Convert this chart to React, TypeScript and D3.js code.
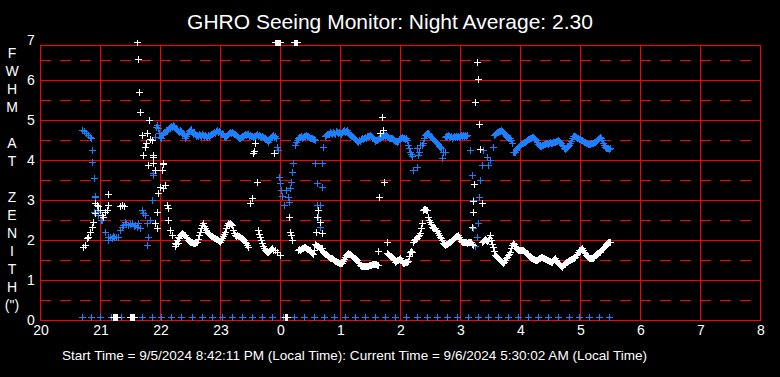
import React from "react";
import * as d3 from "d3";

// ---------- text ----------
const titleText = "GHRO Seeing Monitor: Night Average: 2.30";
const footerText =
  "Start Time = 9/5/2024 8:42:11 PM (Local Time): Current Time = 9/6/2024 5:30:02 AM (Local Time)";
const yAxisLetters = ["F", "W", "H", "M", "", "A", "T", "", "Z", "E", "N", "I", "T", "H", "(\")"];

// ---------- axes (x in minutes after 20:00 local) ----------
const startHour = 20;
const hourTicks = [0, 60, 120, 180, 240, 300, 360, 420, 480, 540, 600, 660, 720];
const valueTicks = [0, 1, 2, 3, 4, 5, 6, 7];
const solidLevels = [1, 2, 3, 4, 5, 6];
const halfLevels = [0.5, 1.5, 2.5, 3.5, 4.5, 5.5, 6.5];

// ---------- blue series [minute, FWHM] ----------
const blueDusk: [number, number][] = [
  [42, 4.75], [44, 4.72], [46, 4.68], [48, 4.62], [50, 4.58], [51, 4.55], [52, 4.25], [52, 3.96],
  [54, 3.55], [55, 3.1], [55, 3.08], [54, 2.71], [57, 2.75], [58, 2.71], [58, 2.62], [61, 2.5],
  [62, 2.5], [65, 2.21], [68, 2.08], [68, 2.0], [70, 2.08], [72, 2.06], [73, 2.1], [74, 2.08],
  [76, 2.07], [78, 2.08], [80, 2.25], [82, 2.32], [83, 2.38], [85, 2.46], [86, 2.4], [88, 2.38],
  [90, 2.4], [92, 2.42], [94, 2.36], [95, 2.38], [97, 2.33], [98, 2.42], [100, 2.3], [102, 2.75],
  [103, 2.67], [105, 2.62], [107, 2.42], [108, 2.08], [107, 1.88], [110, 2.5], [112, 3.0],
  [113, 3.62], [113, 3.67], [115, 4.58], [117, 4.88],
];
const blueUpperA: [number, number][] = [
  [116, 4.82], [118, 4.8], [119, 4.68], [120, 4.58], [121, 4.55], [122, 4.62], [123, 4.66],
  [124, 4.7], [125, 4.71], [126, 4.75], [127, 4.72], [128, 4.78], [129, 4.8], [130, 4.83],
  [131, 4.85], [132, 4.82], [133, 4.88], [134, 4.85], [135, 4.8], [136, 4.78], [137, 4.75],
  [138, 4.72], [139, 4.7], [140, 4.75], [141, 4.72], [142, 4.65], [143, 4.68], [144, 4.62],
  [145, 4.55], [146, 4.6], [147, 4.64], [148, 4.68], [149, 4.72], [150, 4.75], [151, 4.78],
  [152, 4.7], [153, 4.66], [154, 4.7], [155, 4.64], [156, 4.6], [157, 4.62], [158, 4.6],
  [159, 4.64], [160, 4.62], [161, 4.6], [162, 4.64], [163, 4.62], [164, 4.6], [165, 4.62],
  [166, 4.6], [167, 4.58], [168, 4.62], [169, 4.6], [170, 4.62], [171, 4.66], [172, 4.64],
  [173, 4.68], [174, 4.7], [175, 4.68], [176, 4.72], [177, 4.74], [178, 4.7], [179, 4.72],
  [180, 4.7], [181, 4.66], [182, 4.68], [183, 4.64], [184, 4.6], [185, 4.58], [186, 4.6],
  [187, 4.62], [188, 4.65], [189, 4.68], [190, 4.7], [191, 4.68], [192, 4.71], [193, 4.68],
  [194, 4.66], [195, 4.65], [196, 4.62], [197, 4.6], [198, 4.58], [199, 4.56], [200, 4.55],
  [201, 4.58], [202, 4.6], [203, 4.6], [204, 4.62], [205, 4.64], [206, 4.62], [207, 4.65],
  [208, 4.64], [209, 4.6], [210, 4.62], [211, 4.6], [212, 4.6], [213, 4.58], [214, 4.6],
  [215, 4.6], [216, 4.62], [217, 4.64], [218, 4.6], [219, 4.62], [220, 4.6], [221, 4.58],
  [222, 4.6], [223, 4.58], [224, 4.56], [225, 4.54], [226, 4.52], [227, 4.5], [228, 4.46],
  [229, 4.5], [230, 4.55], [231, 4.58], [232, 4.6], [233, 4.62], [234, 4.58], [235, 4.6],
  [236, 4.55],
];
const blueDipA: [number, number][] = [
  [237, 4.33], [238, 4.25], [239, 3.58], [240, 3.42], [241, 3.25], [242, 3.1], [244, 2.88],
  [246, 3.25], [248, 3.08], [249, 2.96], [250, 3.3], [251, 3.46], [252, 3.7], [253, 3.93],
];
const blueUpperB: [number, number][] = [
  [255, 4.38], [256, 4.45], [257, 4.5], [258, 4.55], [259, 4.58], [260, 4.58], [261, 4.6],
  [262, 4.56], [263, 4.58], [264, 4.6], [265, 4.6], [266, 4.62], [267, 4.6], [268, 4.6],
  [269, 4.58], [270, 4.55], [271, 4.56], [272, 4.55], [273, 4.52], [274, 4.52], [275, 4.5],
];
const blueDipB: [number, number][] = [
  [275, 3.93], [282, 3.93], [277, 3.43], [282, 3.33], [277, 2.88], [280, 2.88], [278, 2.58],
  [280, 2.33], [283, 4.33],
];
const blueUpperC: [number, number][] = [
  [285, 4.6], [286, 4.62], [287, 4.66], [288, 4.65], [289, 4.64], [290, 4.7], [291, 4.68],
  [292, 4.66], [293, 4.7], [294, 4.68], [295, 4.66], [296, 4.72], [297, 4.7], [298, 4.68],
  [299, 4.7], [300, 4.68], [301, 4.66], [302, 4.7], [303, 4.72], [304, 4.74], [305, 4.7],
  [306, 4.72], [307, 4.75], [308, 4.7], [309, 4.66], [310, 4.62], [311, 4.6], [312, 4.6],
  [313, 4.58], [314, 4.55], [315, 4.52], [316, 4.5], [317, 4.48], [318, 4.46], [319, 4.5],
  [320, 4.48], [321, 4.52], [322, 4.55], [323, 4.52], [324, 4.55], [325, 4.58], [326, 4.56],
  [327, 4.6], [328, 4.6], [329, 4.6], [330, 4.62], [331, 4.6], [332, 4.58], [333, 4.55],
  [334, 4.52], [335, 4.48], [336, 4.5], [337, 4.5], [338, 4.52], [339, 4.55], [340, 4.56],
  [341, 4.58], [342, 4.6], [343, 4.6], [344, 4.62], [345, 4.6], [346, 4.62], [347, 4.6],
  [348, 4.58], [349, 4.56], [350, 4.55], [351, 4.54], [352, 4.55], [353, 4.52], [354, 4.5],
  [355, 4.48], [356, 4.48], [357, 4.46], [358, 4.48], [359, 4.52], [360, 4.55], [361, 4.56],
  [362, 4.58], [363, 4.55], [364, 4.55], [365, 4.52], [366, 4.54], [367, 4.5], [368, 4.38],
  [369, 4.3], [370, 4.21], [371, 4.15], [372, 4.1], [373, 3.75], [377, 3.83], [377, 4.3],
  [378, 4.12], [379, 4.21], [380, 4.38], [382, 4.38], [383, 4.43], [384, 4.55], [385, 4.62],
  [386, 4.66], [387, 4.68], [388, 4.68], [389, 4.64], [390, 4.6], [391, 4.58], [392, 4.55],
  [393, 4.52], [394, 4.5], [395, 4.48], [396, 4.45], [397, 4.43], [398, 4.4], [399, 4.36],
  [400, 4.33], [401, 4.3], [402, 4.04], [403, 4.21], [405, 4.21], [405, 4.58], [406, 4.6],
  [407, 4.6], [408, 4.62], [409, 4.6], [410, 4.58], [411, 4.6], [412, 4.56], [413, 4.58],
  [414, 4.6], [415, 4.58], [416, 4.6], [417, 4.58], [418, 4.6], [419, 4.58], [420, 4.6],
  [421, 4.62], [422, 4.6], [423, 4.62], [424, 4.6], [425, 4.62], [426, 4.6], [427, 4.62],
];
const blueDipC: [number, number][] = [
  [430, 4.25], [432, 3.62], [433, 3.0], [433, 2.29], [435, 1.85], [437, 2.08], [438, 2.43],
  [439, 3.08], [440, 3.5], [442, 3.88], [443, 4.25], [447, 4.08], [448, 3.88], [450, 4.0],
  [453, 4.33],
];
const blueUpperD: [number, number][] = [
  [454, 4.62], [455, 4.66], [456, 4.68], [457, 4.7], [458, 4.7], [459, 4.72], [460, 4.72],
  [461, 4.75], [462, 4.72], [463, 4.7], [464, 4.68], [465, 4.64], [466, 4.6], [467, 4.58],
  [468, 4.56], [469, 4.55], [470, 4.55], [471, 4.5], [472, 4.43], [473, 4.21], [474, 4.2],
  [475, 4.21], [476, 4.25], [477, 4.3], [478, 4.33], [479, 4.36], [480, 4.38], [481, 4.4],
  [482, 4.42], [483, 4.42], [484, 4.45], [485, 4.46], [486, 4.48], [487, 4.5], [488, 4.52],
  [489, 4.52], [490, 4.55], [491, 4.56], [492, 4.58], [493, 4.58], [494, 4.55], [495, 4.52],
  [496, 4.5], [497, 4.45], [498, 4.4], [499, 4.38], [500, 4.35], [501, 4.36], [502, 4.38],
  [503, 4.38], [504, 4.4], [505, 4.4], [506, 4.42], [507, 4.42], [508, 4.4], [509, 4.42],
  [510, 4.44], [511, 4.42], [512, 4.42], [513, 4.44], [514, 4.44], [515, 4.45], [516, 4.48],
  [517, 4.48], [518, 4.5], [519, 4.48], [520, 4.45], [521, 4.42], [522, 4.38], [523, 4.35],
  [524, 4.3], [525, 4.28], [526, 4.3], [527, 4.32], [528, 4.35], [529, 4.38], [530, 4.42],
  [531, 4.48], [532, 4.55], [533, 4.6], [534, 4.6], [535, 4.6], [536, 4.58], [537, 4.55],
  [538, 4.55], [539, 4.52], [540, 4.52], [541, 4.5], [542, 4.5], [543, 4.48], [544, 4.45],
  [545, 4.45], [546, 4.42], [547, 4.42], [548, 4.4], [549, 4.4], [550, 4.4], [551, 4.42],
  [552, 4.42], [553, 4.43], [554, 4.45], [555, 4.46], [556, 4.48], [557, 4.5], [558, 4.52],
  [559, 4.55], [560, 4.58], [561, 4.55], [562, 4.5], [563, 4.42], [564, 4.38], [565, 4.33],
  [566, 4.3], [567, 4.29], [568, 4.3], [569, 4.28], [570, 4.29],
];
const blueZeroMinutes = [
  42, 51, 60, 71, 81, 91, 102, 112, 121, 131, 141, 152, 162, 172, 182, 192, 202, 212, 222, 232,
  243, 254, 264, 274, 284, 294, 305, 315, 325, 335, 345, 355, 366, 377, 387, 397, 407, 417, 428,
  438, 448, 458, 468, 478, 488, 498, 508, 518, 529, 539, 549, 559, 569,
];

// ---------- white series [minute, FWHM] ----------
const whiteDusk: [number, number][] = [
  [43, 1.83], [45, 1.88], [47, 2.05], [48, 2.08], [50, 2.2], [52, 2.33], [53, 2.46], [55, 2.67],
  [55, 2.92], [57, 2.88], [58, 2.85], [60, 2.75], [62, 2.62], [63, 2.58], [65, 2.71], [67, 2.75],
  [68, 2.88], [68, 3.15], [80, 2.85], [82, 2.88], [84, 2.86],
];
const whiteRise: [number, number][] = [
  [97, 6.94], [98, 6.52], [99, 5.69], [100, 5.19], [102, 4.62], [103, 4.12], [105, 4.32],
  [106, 4.42], [107, 4.67], [108, 3.88], [109, 5.0], [110, 4.52], [112, 4.5], [113, 4.12],
  [113, 3.92], [113, 4.08], [115, 3.75], [115, 2.42], [117, 2.71], [117, 2.3], [118, 3.17],
  [120, 3.33], [122, 3.75], [123, 3.92], [123, 3.3], [123, 3.89], [125, 3.38], [127, 2.88],
  [128, 2.8], [128, 2.5], [130, 2.25], [132, 2.12],
];
const whiteLowA: [number, number][] = [
  [135, 1.92], [135, 1.85], [136, 1.9], [137, 2.0], [138, 2.08], [138, 1.92], [139, 2.05],
  [140, 2.12], [141, 2.15], [142, 2.17], [143, 2.15], [144, 2.12], [145, 2.12], [146, 2.08],
  [147, 2.04], [148, 2.0], [149, 1.98], [150, 1.96], [151, 1.95], [152, 1.94], [153, 1.92],
  [154, 1.92], [155, 1.93], [156, 1.95], [157, 1.96], [158, 2.02], [159, 2.12], [160, 2.21],
  [161, 2.3], [162, 2.38], [163, 2.42], [164, 2.36], [165, 2.3], [166, 2.25], [167, 2.21],
  [168, 2.18], [169, 2.15], [170, 2.12], [171, 2.1], [172, 2.1], [173, 2.08], [174, 2.05],
  [175, 2.04], [176, 2.02], [177, 2.02], [178, 2.0], [179, 1.98], [180, 1.96], [181, 2.0],
  [182, 2.05], [183, 2.1], [184, 2.15], [185, 2.21], [186, 2.3], [187, 2.38], [188, 2.42],
  [189, 2.4], [190, 2.42], [191, 2.4], [192, 2.38], [193, 2.25], [194, 2.18], [195, 2.12],
  [196, 2.1], [197, 2.12], [198, 2.1], [199, 2.1], [200, 2.08], [201, 2.06], [202, 2.04],
  [203, 2.02], [204, 2.0], [205, 1.96], [206, 1.92], [207, 1.88], [208, 1.83], [218, 2.25],
  [219, 2.15], [220, 2.08], [221, 2.0], [222, 1.92], [223, 1.85], [224, 1.8], [225, 1.75],
  [226, 1.72], [227, 1.7], [228, 1.71], [229, 1.72], [230, 1.75], [231, 1.78], [232, 1.79],
  [233, 1.76], [235, 1.75], [237, 1.7], [240, 1.62],
];
const whiteStrayA: [number, number][] = [
  [210, 2.92], [212, 3.04], [213, 4.17], [214, 4.22], [215, 4.42], [217, 3.46], [234, 4.17],
  [249, 2.58], [250, 2.21], [251, 2.12], [252, 2.0],
];
const whiteLowB: [number, number][] = [
  [258, 1.75], [259, 1.77], [260, 1.75], [261, 1.78], [262, 1.8], [263, 1.8], [264, 1.82],
  [265, 1.83], [266, 1.8], [267, 1.78], [268, 1.78], [269, 1.76], [270, 1.75], [271, 1.7],
  [272, 1.68], [273, 1.65], [274, 1.75], [275, 1.9], [276, 1.88], [277, 1.86], [278, 1.85],
  [279, 1.82], [280, 1.8], [281, 1.8], [282, 1.79], [283, 1.71], [284, 1.68], [285, 1.66],
  [286, 1.64], [287, 1.62], [288, 1.6], [289, 1.58], [290, 1.56], [291, 1.55], [292, 1.54],
  [293, 1.52], [294, 1.5], [295, 1.48], [296, 1.48], [297, 1.46], [298, 1.44], [299, 1.42],
  [300, 1.42], [301, 1.42], [302, 1.42], [303, 1.48], [304, 1.52], [305, 1.58], [306, 1.62],
  [307, 1.65], [308, 1.67], [309, 1.66], [310, 1.64], [311, 1.62], [312, 1.6], [313, 1.58],
  [314, 1.56], [315, 1.55], [316, 1.52], [317, 1.5], [318, 1.46], [319, 1.42], [320, 1.38],
  [321, 1.36], [322, 1.35], [323, 1.35], [324, 1.35], [325, 1.36], [326, 1.35], [327, 1.36],
  [328, 1.36], [329, 1.38], [330, 1.38], [331, 1.38], [332, 1.4], [333, 1.4], [334, 1.4],
  [335, 1.4], [336, 1.4], [337, 1.38], [338, 1.38],
];
const whiteStrayB: [number, number][] = [
  [276, 2.21], [277, 2.58], [278, 2.75], [280, 2.46], [282, 2.17], [339, 3.07], [340, 4.67],
  [342, 5.08], [343, 4.75], [344, 3.44], [338, 1.73], [347, 1.96],
];
const whiteLowC: [number, number][] = [
  [347, 1.67], [348, 1.64], [349, 1.62], [350, 1.6], [351, 1.6], [352, 1.58], [353, 1.55],
  [354, 1.5], [355, 1.46], [356, 1.48], [357, 1.5], [358, 1.5], [359, 1.52], [360, 1.54],
  [361, 1.5], [362, 1.45], [363, 1.42], [364, 1.42], [365, 1.44], [366, 1.45], [367, 1.46],
  [368, 1.48], [369, 1.6], [370, 1.71], [371, 1.72], [372, 1.71], [373, 1.96], [374, 2.0],
  [375, 2.02], [376, 2.02], [377, 2.04], [378, 2.1], [379, 2.12], [380, 2.17], [381, 2.3],
  [382, 2.42], [383, 2.75], [384, 2.78], [385, 2.78], [386, 2.76], [387, 2.75], [388, 2.58],
  [389, 2.5], [390, 2.45], [391, 2.4], [392, 2.33], [393, 2.3], [394, 2.3], [395, 2.29],
  [396, 2.25], [397, 2.22], [398, 2.17], [399, 2.12], [400, 2.08], [401, 2.04], [402, 2.0],
  [403, 1.92], [404, 1.9], [405, 1.88], [406, 1.9], [407, 1.9], [408, 1.92], [409, 1.94],
  [410, 1.96], [411, 1.98], [412, 2.0], [413, 2.02], [414, 2.05], [415, 2.08], [416, 2.1],
  [417, 2.1], [418, 2.12], [419, 2.08], [420, 2.02], [421, 1.98], [422, 1.96], [423, 1.95],
  [424, 1.95], [425, 1.94], [426, 1.94], [427, 1.93], [428, 1.94], [429, 1.95], [430, 1.96],
  [431, 1.94], [432, 1.9], [433, 1.88],
];
const whiteStrayC: [number, number][] = [
  [432, 2.33], [433, 2.71], [433, 2.98], [434, 3.39], [435, 5.44], [437, 6.46], [438, 6.02],
  [439, 4.9], [440, 4.28], [442, 2.93],
];
const whiteLowD: [number, number][] = [
  [442, 1.96], [443, 1.98], [444, 2.0], [445, 2.02], [446, 2.0], [447, 1.98], [448, 2.0],
  [449, 2.05], [450, 2.12], [451, 2.0], [452, 1.9], [453, 1.83], [454, 1.72], [455, 1.62],
  [456, 1.6], [457, 1.58], [458, 1.55], [459, 1.52], [460, 1.5], [461, 1.48], [462, 1.45],
  [463, 1.42], [464, 1.46], [465, 1.5], [466, 1.54], [467, 1.58], [468, 1.62], [469, 1.66],
  [470, 1.71], [471, 1.8], [472, 1.88], [473, 1.92], [474, 1.9], [475, 1.85], [476, 1.8],
  [477, 1.78], [478, 1.75], [479, 1.75], [480, 1.76], [481, 1.75], [482, 1.75], [483, 1.75],
  [484, 1.72], [485, 1.7], [486, 1.68], [487, 1.67], [488, 1.64], [489, 1.6], [490, 1.58],
  [491, 1.56], [492, 1.54], [493, 1.53], [494, 1.52], [495, 1.51], [496, 1.5], [497, 1.5],
  [498, 1.52], [499, 1.55], [500, 1.56], [501, 1.57], [502, 1.58], [503, 1.56], [504, 1.55],
  [505, 1.53], [506, 1.52], [507, 1.5], [508, 1.49], [509, 1.48], [510, 1.47], [511, 1.46],
  [512, 1.46], [513, 1.5], [514, 1.52], [515, 1.54], [516, 1.5], [517, 1.45], [518, 1.42],
  [519, 1.4], [520, 1.37], [521, 1.35], [522, 1.33], [523, 1.38], [524, 1.4], [525, 1.43],
  [526, 1.45], [527, 1.46], [528, 1.48], [529, 1.49], [530, 1.5], [531, 1.52], [532, 1.53],
  [533, 1.55], [534, 1.56], [535, 1.58], [536, 1.62], [537, 1.66], [538, 1.71], [539, 1.74],
  [540, 1.76], [541, 1.78], [542, 1.79], [543, 1.75], [544, 1.7], [545, 1.67], [546, 1.63],
  [547, 1.6], [548, 1.58], [549, 1.56], [550, 1.55], [551, 1.55], [552, 1.55], [553, 1.54],
  [554, 1.58], [555, 1.62], [556, 1.65], [557, 1.67], [558, 1.68], [559, 1.7], [560, 1.71],
  [561, 1.74], [562, 1.77], [563, 1.79], [564, 1.82], [565, 1.86], [566, 1.9], [567, 1.92],
  [568, 1.94], [569, 1.95], [570, 1.96],
];
const whiteZeroMinutes = [73, 74, 75, 76, 77, 90, 91, 92, 93, 94, 245, 246, 247];
const whiteTopMinutes = [235, 236, 237, 238, 239, 240, 254, 255, 256, 257];
const zeroRowValue = 0.07;
const topRowValue = 6.94;

const blueColor = "#1a80ff";
const gridColor = "#ff0000";

export default function App() {
  const x = d3.scaleLinear().domain([0, 720]).range([40, 760]);
  const y = d3.scaleLinear().domain([0, 7]).range([320, 40]);
  const plotTop = 45;

  const plusPath = (pts: [number, number][]) =>
    pts
      .map(([m, v]) => {
        const c = Math.round(x(m));
        const r = Math.round(y(v));
        return `M${c - 3},${r + 0.5}H${c + 4}M${c + 0.5},${r - 3}V${r + 4}`;
      })
      .join("");

  const blueAll = [
    ...blueDusk, ...blueUpperA, ...blueDipA, ...blueUpperB, ...blueDipB, ...blueUpperC,
    ...blueDipC, ...blueUpperD,
    ...blueZeroMinutes.map((m) => [m, zeroRowValue] as [number, number]),
  ];
  const whiteAll = [
    ...whiteDusk, ...whiteRise, ...whiteLowA, ...whiteStrayA, ...whiteLowB, ...whiteStrayB,
    ...whiteLowC, ...whiteStrayC, ...whiteLowD,
    ...whiteZeroMinutes.map((m) => [m, zeroRowValue] as [number, number]),
    ...whiteTopMinutes.map((m) => [m, topRowValue] as [number, number]),
  ];

  const fmtHour = (m: number) => String((startHour + m / 60) % 24);
  const font = "'Liberation Sans', Arial, sans-serif";

  return (
    <svg
      width={780}
      height={377}
      style={{ position: "absolute", left: 0, top: 0, background: "#000" }}
      fontFamily={font}
    >
      <rect x={0} y={0} width={780} height={377} fill="#000" />
      <defs>
        <clipPath id="plotClip">
          <rect x={0} y={40} width={780} height={284} />
        </clipPath>
      </defs>
      <text x={390} y={29} fill="#fff" fontSize={21} textAnchor="middle">
        {titleText}
      </text>

      {/* grid */}
      <g stroke={gridColor} strokeWidth={1} shapeRendering="crispEdges" fill="none">
        {halfLevels.map((v) => (
          <line key={"h" + v} x1={x(0)} x2={x(720)} y1={Math.round(y(v)) + 0.5} y2={Math.round(y(v)) + 0.5}
            strokeDasharray="11 9" />
        ))}
        {solidLevels.map((v) => (
          <line key={"s" + v} x1={x(0)} x2={x(720)} y1={Math.round(y(v)) + 0.5} y2={Math.round(y(v)) + 0.5} />
        ))}
        {hourTicks.map((m) => (
          <line key={"v" + m} x1={Math.round(x(m)) + 0.5} x2={Math.round(x(m)) + 0.5} y1={plotTop} y2={y(0) + 1} />
        ))}
        <line x1={x(0)} x2={x(720) + 1} y1={plotTop + 0.5} y2={plotTop + 0.5} />
        <line x1={x(0)} x2={x(720) + 1} y1={y(0) + 0.5} y2={y(0) + 0.5} />
      </g>

      {/* markers */}
      <g clipPath="url(#plotClip)" fill="none" strokeWidth={1} shapeRendering="crispEdges">
        <path d={plusPath(blueAll)} stroke={blueColor} />
        <path d={plusPath(whiteAll)} stroke="#fff" />
      </g>

      {/* tick labels and vertical axis title */}
      <g fill="#fff" fontSize={14} textAnchor="middle">
        {valueTicks.map((v) => (
          <text key={v} x={31} y={y(v) + 5}>
            {v}
          </text>
        ))}
        {hourTicks.map((m) => (
          <text key={"x" + m} x={x(m) + 1} y={335}>
            {fmtHour(m)}
          </text>
        ))}
        {yAxisLetters.map((s, i) => (
          <text key={"l" + i} x={12} y={53 + 18 * i + 5}>
            {s}
          </text>
        ))}
      </g>

      <text x={62} y={360} fill="#fff" fontSize={13} textLength={585} lengthAdjust="spacingAndGlyphs">
        {footerText}
      </text>
    </svg>
  );
}
